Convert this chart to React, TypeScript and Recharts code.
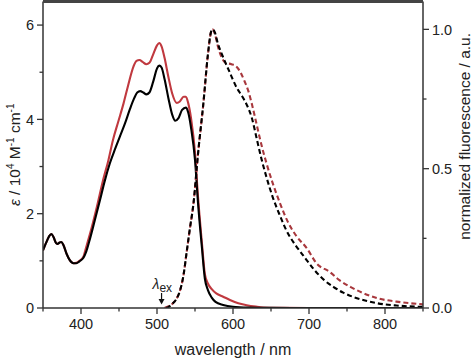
import React from 'react';
import { ComposedChart, Line, XAxis, YAxis, ReferenceDot } from 'recharts';

const FONT = '"Liberation Sans", Arial, Helvetica, sans-serif';
const AXIS = '#333';
const TXT = '#222';

const CHART_W = 474;
const CHART_H = 364;
const LEFT_W = 43;
const RIGHT_W = 51;
const PLOT_W = CHART_W - LEFT_W - RIGHT_W;

// Absorption spectra (epsilon / 10^4 M^-1 cm^-1)
const absBlackNm = [350, 354, 358, 361, 364, 367, 369, 372, 374, 377, 381, 385, 390, 394, 398, 403, 407, 411, 418, 425, 431, 438, 445, 451, 458, 464, 470, 474, 478, 482, 486, 490, 495, 500, 503, 506, 510, 515, 520, 524, 528, 533, 538, 541, 545, 550, 554, 559, 563, 567, 572, 577, 587, 600, 620, 650, 700, 850];
const absBlackEps = [1.22, 1.38, 1.52, 1.57, 1.5, 1.38, 1.36, 1.39, 1.4, 1.33, 1.15, 1.02, 0.95, 0.95, 0.99, 1.06, 1.2, 1.42, 1.85, 2.29, 2.68, 3.07, 3.38, 3.63, 3.92, 4.2, 4.45, 4.57, 4.6, 4.57, 4.53, 4.57, 4.8, 5.08, 5.14, 5.1, 4.85, 4.45, 4.1, 3.97, 4.02, 4.2, 4.25, 4.15, 3.8, 3.14, 2.22, 1.3, 0.62, 0.38, 0.22, 0.13, 0.064, 0.025, 0.008, 0.002, 0, 0];

const absRedNm = [350, 354, 358, 361, 364, 367, 369, 372, 374, 377, 381, 385, 390, 394, 398, 403, 407, 414, 421, 429, 436, 442, 449, 456, 462, 469, 473, 477, 481, 486, 490, 495, 500, 503, 506, 510, 515, 520, 526, 530, 535, 538, 541, 545, 550, 554, 559, 563, 567, 572, 578, 587, 596, 607, 618, 630, 640, 660, 700, 850];
const absRedEps = [1.22, 1.38, 1.52, 1.57, 1.5, 1.38, 1.36, 1.39, 1.4, 1.33, 1.15, 1.02, 0.95, 0.96, 1.0, 1.08, 1.3, 1.7, 2.15, 2.71, 3.13, 3.56, 3.95, 4.34, 4.72, 5.12, 5.24, 5.26, 5.22, 5.17, 5.2, 5.38, 5.57, 5.62, 5.55, 5.3, 4.9, 4.55, 4.35, 4.38, 4.48, 4.48, 4.35, 4.0, 3.3, 2.35, 1.4, 0.72, 0.52, 0.4, 0.31, 0.24, 0.17, 0.1, 0.06, 0.03, 0.012, 0.004, 0, 0];

// Normalized fluorescence
const emBlackNm = [512, 516, 520, 525, 530, 535, 539, 543, 548, 554, 561, 567, 571, 573, 576, 580, 587, 595, 605, 612, 618, 625, 631, 637, 644, 652, 662, 670, 681, 692, 706, 720, 732, 745, 758, 775, 790, 815, 850];
const emBlackInt = [0, 0.005, 0.015, 0.03, 0.06, 0.12, 0.2, 0.28, 0.375, 0.554, 0.734, 0.91, 0.99, 1.0, 0.99, 0.95, 0.9, 0.85, 0.79, 0.76, 0.73, 0.68, 0.61, 0.54, 0.47, 0.4, 0.33, 0.28, 0.23, 0.19, 0.14, 0.1, 0.076, 0.055, 0.04, 0.026, 0.017, 0.009, 0.004];

const emRedNm = [510, 514, 518, 522, 526, 530, 535, 539, 543, 548, 554, 561, 567, 571, 573, 576, 580, 585, 590, 598, 605, 610, 615, 620, 625, 631, 637, 644, 652, 662, 672, 684, 697, 710, 727, 740, 755, 770, 790, 815, 850];
const emRedInt = [0, 0.005, 0.01, 0.02, 0.035, 0.06, 0.12, 0.2, 0.28, 0.375, 0.554, 0.734, 0.91, 0.99, 1.0, 0.985, 0.94, 0.9, 0.88, 0.875, 0.865, 0.845, 0.815, 0.78, 0.73, 0.66, 0.59, 0.52, 0.45, 0.375, 0.31, 0.256, 0.215, 0.16, 0.13, 0.1, 0.075, 0.055, 0.035, 0.023, 0.013];

const xTicks = [350, 400, 450, 500, 550, 600, 650, 700, 750, 800, 850];
const leftTicks = [0, 1, 2, 3, 4, 5, 6];
const rightTicks = [0, 0.25, 0.5, 0.75, 1.0];
const leftMax = 6.5;
const rightMax = 1.1;
const excitationNm = 506;

const toPts = (xs: number[], ys: number[]) => xs.map((x, i) => ({ nm: x, v: ys[i] }));

const absBlack = toPts(absBlackNm, absBlackEps);
const absRed = toPts(absRedNm, absRedEps);
const emBlack = toPts(emBlackNm, emBlackInt);
const emRed = toPts(emRedNm, emRedInt);

const BottomTick = (props: any) => {
  const { x, y, payload } = props;
  const v = payload.value;
  const major = v % 100 === 0;
  return (
    <g>
      <line x1={x} x2={x} y1={y} y2={y + (major ? 6 : 3.5)} stroke={AXIS} strokeWidth={1.3} />
      {major && (
        <text x={x} y={y + 21} textAnchor="middle" fontSize={14.5} fill={TXT} fontFamily={FONT}>
          {v}
        </text>
      )}
    </g>
  );
};

const LeftTick = (props: any) => {
  const { x, y, payload } = props;
  const v = payload.value;
  const major = v % 2 === 0;
  return (
    <g>
      <line x1={x} x2={x - (major ? 6 : 3.5)} y1={y} y2={y} stroke={AXIS} strokeWidth={1.3} />
      {major && (
        <text x={x - 9} y={y} dy="0.36em" textAnchor="end" fontSize={14.5} fill={TXT} fontFamily={FONT}>
          {v}
        </text>
      )}
    </g>
  );
};

const RightTick = (props: any) => {
  const { x, y, payload } = props;
  const v = payload.value;
  const major = Math.abs((v * 2) - Math.round(v * 2)) < 1e-6;
  return (
    <g>
      <line x1={x} x2={x + (major ? 6 : 3.5)} y1={y} y2={y} stroke={AXIS} strokeWidth={1.3} />
      {major && (
        <text x={x + 9} y={y} dy="0.36em" textAnchor="start" fontSize={14.5} fill={TXT} fontFamily={FONT}>
          {v.toFixed(1)}
        </text>
      )}
    </g>
  );
};

const LeftTitle = (props: any) => {
  const vb = props.viewBox || { x: 0, y: 1.5, width: LEFT_W, height: 306 };
  const cx = vb.x + 20;
  const cy = vb.y + vb.height / 2;
  return (
    <text
      x={cx}
      y={cy}
      transform={`rotate(-90, ${cx}, ${cy})`}
      textAnchor="middle"
      fontSize={15.5}
      fill={TXT}
      fontFamily={FONT}
    >
      <tspan fontStyle="italic">ε</tspan>
      <tspan> / 10</tspan>
      <tspan dy={-6} fontSize={10}>4</tspan>
      <tspan dy={6}> M</tspan>
      <tspan dy={-6} fontSize={10}>-1</tspan>
      <tspan dy={6}> cm</tspan>
      <tspan dy={-6} fontSize={10}>-1</tspan>
    </text>
  );
};

const RightTitle = (props: any) => {
  const vb = props.viewBox || { x: 423, y: 1.5, width: RIGHT_W, height: 306 };
  const cx = vb.x + 47.5;
  const cy = vb.y + vb.height * 0.44;
  return (
    <text
      x={cx}
      y={cy}
      transform={`rotate(-90, ${cx}, ${cy})`}
      textAnchor="middle"
      fontSize={15.5}
      fill={TXT}
      fontFamily={FONT}
    >
      normalized fluorescence / a.u.
    </text>
  );
};

const BottomTitle = (props: any) => {
  const vb = props.viewBox || { x: LEFT_W, y: 308, width: PLOT_W, height: 56 };
  return (
    <text x={vb.x + vb.width / 2} y={vb.y + 47} textAnchor="middle" fontSize={16} fill={TXT} fontFamily={FONT}>
      wavelength / nm
    </text>
  );
};

const ExcitationMark = (props: any) => {
  const { cx, cy } = props;
  if (cx == null || cy == null) return null;
  return (
    <g>
      <line x1={cx} x2={cx} y1={cy - 15} y2={cy - 8} stroke="#111" strokeWidth={1.2} />
      <polygon points={`${cx - 3},${cy - 9} ${cx + 3},${cy - 9} ${cx},${cy - 3.5}`} fill="#111" />
      <text x={cx - 9} y={cy - 19} fontSize={14} fill={TXT} fontFamily={FONT}>
        <tspan fontStyle="italic">λ</tspan>
        <tspan dy={3} fontSize={12}>ex</tspan>
      </text>
    </g>
  );
};

export default function App() {
  return (
    <div style={{ position: 'absolute', left: 0, top: 0, width: CHART_W, height: CHART_H, background: '#fff' }}>
      <ComposedChart width={CHART_W} height={CHART_H} margin={{ top: 1.5, right: 0, bottom: 0, left: 0 }}>
        <XAxis
          xAxisId="main"
          dataKey="nm"
          type="number"
          domain={[350, 850]}
          allowDataOverflow
          ticks={xTicks}
          interval={0}
          height={56}
          tickSize={0}
          tickMargin={0}
          tickLine={false}
          axisLine={{ stroke: AXIS, strokeWidth: 1.5 }}
          tick={BottomTick}
          label={<BottomTitle />}
        />
        <YAxis
          yAxisId="left"
          orientation="left"
          type="number"
          domain={[0, leftMax]}
          allowDataOverflow
          ticks={leftTicks}
          interval={0}
          width={LEFT_W}
          tickSize={0}
          tickMargin={0}
          tickLine={false}
          axisLine={{ stroke: AXIS, strokeWidth: 1.5 }}
          tick={LeftTick}
          label={<LeftTitle />}
        />
        <YAxis
          yAxisId="right"
          orientation="right"
          type="number"
          domain={[0, rightMax]}
          allowDataOverflow
          ticks={rightTicks}
          interval={0}
          width={RIGHT_W}
          tickSize={0}
          tickMargin={0}
          tickLine={false}
          axisLine={{ stroke: AXIS, strokeWidth: 1.5 }}
          tick={RightTick}
          label={<RightTitle />}
        />
        <Line
          xAxisId="main"
          yAxisId="left"
          data={absRed}
          dataKey="v"
          type="monotone"
          stroke="#c0393f"
          strokeWidth={2.1}
          dot={false}
          isAnimationActive={false}
        />
        <Line
          xAxisId="main"
          yAxisId="left"
          data={absBlack}
          dataKey="v"
          type="monotone"
          stroke="#000"
          strokeWidth={2.1}
          dot={false}
          isAnimationActive={false}
        />
        <Line
          xAxisId="main"
          yAxisId="right"
          data={emRed}
          dataKey="v"
          type="monotone"
          stroke="#a8383d"
          strokeWidth={2.1}
          strokeDasharray="5 3"
          dot={false}
          isAnimationActive={false}
        />
        <Line
          xAxisId="main"
          yAxisId="right"
          data={emBlack}
          dataKey="v"
          type="monotone"
          stroke="#000"
          strokeWidth={2.1}
          strokeDasharray="5 3"
          dot={false}
          isAnimationActive={false}
        />
        <ReferenceDot
          xAxisId="main"
          yAxisId="left"
          x={excitationNm}
          y={0}
          r={0}
          ifOverflow="visible"
          shape={ExcitationMark}
        />
      </ComposedChart>
      {/* top edge of the plot frame */}
      <div
        style={{
          position: 'absolute',
          left: LEFT_W,
          top: 0,
          width: PLOT_W,
          height: 3,
          background: '#444',
          pointerEvents: 'none',
        }}
      />
    </div>
  );
}
